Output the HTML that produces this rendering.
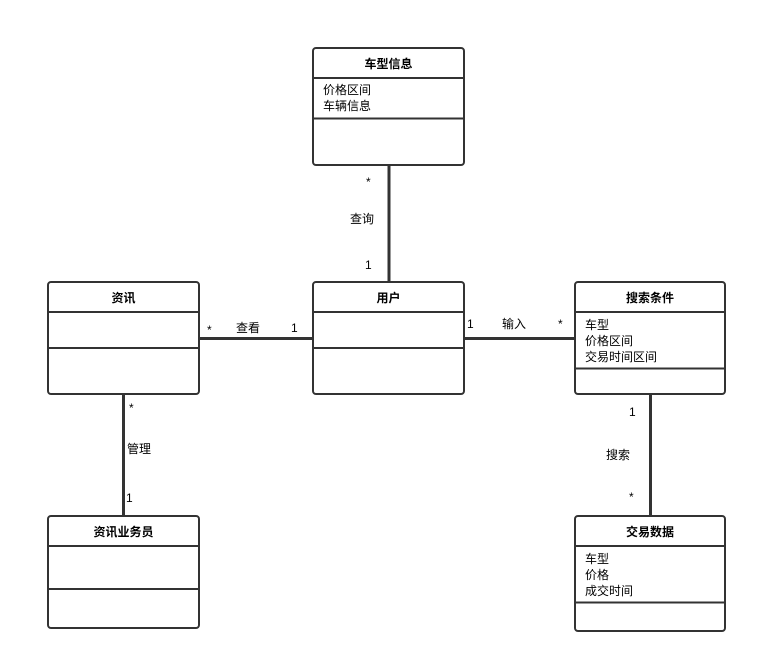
<!DOCTYPE html>
<html><head><meta charset="utf-8"><style>
html,body{margin:0;padding:0;background:#fff;}
svg text{font-family:"Liberation Sans","Noto Sans CJK SC",sans-serif;font-size:12px;fill:#000;}
.b{font-weight:bold;}
</style></head><body>
<svg width="757" height="663" viewBox="0 0 757 663" xmlns="http://www.w3.org/2000/svg">
<g stroke="#333" stroke-width="3" fill="none">
<line x1="389" y1="165" x2="389" y2="282"/>
<line x1="199" y1="338.5" x2="313" y2="338.5"/>
<line x1="464" y1="338.5" x2="575" y2="338.5"/>
<line x1="123.5" y1="394" x2="123.5" y2="516"/>
<line x1="650.5" y1="394" x2="650.5" y2="516"/>
</g>
<g stroke="#333" stroke-width="2" fill="#fff">
<rect x="313" y="48" width="151" height="117" rx="3"/>
<rect x="48" y="282" width="151" height="112" rx="3"/>
<rect x="313" y="282" width="151" height="112" rx="3"/>
<rect x="575" y="282" width="150" height="112" rx="3"/>
<rect x="48" y="516" width="151" height="112" rx="3"/>
<rect x="575" y="516" width="150" height="115" rx="3"/>
</g>
<g stroke="#333" stroke-width="2">
<line x1="313" y1="78" x2="464" y2="78"/><line x1="313" y1="118.5" x2="464" y2="118.5"/>
<line x1="48" y1="312" x2="199" y2="312"/><line x1="48" y1="348" x2="199" y2="348"/>
<line x1="313" y1="312" x2="464" y2="312"/><line x1="313" y1="348" x2="464" y2="348"/>
<line x1="575" y1="312" x2="725" y2="312"/><line x1="575" y1="368.5" x2="725" y2="368.5"/>
<line x1="48" y1="546" x2="199" y2="546"/><line x1="48" y1="589" x2="199" y2="589"/>
<line x1="575" y1="546" x2="725" y2="546"/><line x1="575" y1="602.5" x2="725" y2="602.5"/>
</g>
<g text-anchor="middle" class="b">
<text x="388.5" y="68" class="b">车型信息</text>
<text x="123.5" y="302" class="b">资讯</text>
<text x="388.5" y="302" class="b">用户</text>
<text x="650" y="302" class="b">搜索条件</text>
<text x="123.5" y="536" class="b">资讯业务员</text>
<text x="650" y="536" class="b">交易数据</text>
</g>
<text x="323" y="94">价格区间</text>
<text x="323" y="110">车辆信息</text>
<text x="585" y="329">车型</text>
<text x="585" y="345">价格区间</text>
<text x="585" y="361">交易时间区间</text>
<text x="585" y="563">车型</text>
<text x="585" y="579">价格</text>
<text x="585" y="595">成交时间</text>
<text x="366" y="186">*</text>
<text x="350" y="223">查询</text>
<text x="365" y="269">1</text>
<text x="207" y="334">*</text>
<text x="236" y="332">查看</text>
<text x="291" y="332">1</text>
<text x="467" y="328">1</text>
<text x="502" y="328">输入</text>
<text x="558" y="328">*</text>
<text x="129" y="412">*</text>
<text x="127" y="453">管理</text>
<text x="126" y="502">1</text>
<text x="629" y="416">1</text>
<text x="606" y="459">搜索</text>
<text x="629" y="501">*</text>
</svg>
</body></html>
